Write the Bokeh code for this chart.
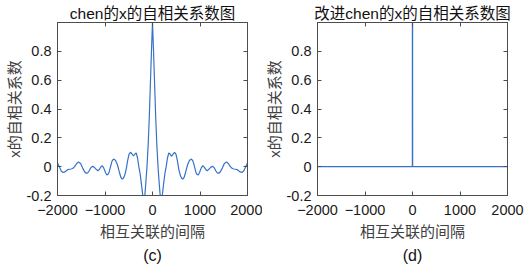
from bokeh.plotting import figure
from bokeh.layouts import row
from bokeh.models import (Range1d, FixedTicker, LinearAxis, CustomJSTickFormatter, Title)
from bokeh.embed import file_html
from bokeh.resources import INLINE

# ---- data ----
lags_c = [-2000, -1980, -1950, -1920, -1888, -1855, -1820, -1782, -1750, -1712, -1680, -1640,
          -1600, -1558, -1510, -1470, -1430, -1396, -1365, -1335, -1300, -1270, -1245, -1215,
          -1180, -1151, -1120, -1090, -1059, -1025, -990, -962, -935, -910, -880, -850, -821,
          -780, -740, -700, -665, -640, -620, -590, -555, -525, -495, -465, -430, -400, -370,
          -343, -315, -288, -260, -230, -205, -195, -185, -175, -162, -140, -116, -90, -66,
          -40, -20, 0,
          20, 40, 66, 90, 116, 140, 162, 175, 185, 195, 205, 230, 260, 288, 315, 343, 370, 400,
          430, 465, 495, 525, 555, 590, 620, 640, 665, 700, 740, 780, 821, 850, 880, 910, 935,
          962, 990, 1025, 1059, 1090, 1120, 1151, 1180, 1215, 1245, 1270, 1300, 1335, 1365,
          1396, 1430, 1470, 1510, 1558, 1600, 1640, 1680, 1712, 1750, 1782, 1820, 1855, 1888,
          1920, 1950, 1980, 2000]
corr_c = [0.026, 0.012, -0.010, -0.030, -0.040, -0.038, -0.030, -0.020, -0.018, -0.016, -0.013, 0.000,
          0.020, 0.033, 0.020, -0.010, -0.035, -0.046, -0.043, -0.030, -0.008, 0.002, 0.000, -0.008,
          -0.020, -0.028, -0.020, -0.003, 0.007, -0.010, -0.040, -0.058, -0.053, -0.035, 0.005, 0.040, 0.053,
          0.045, 0.015, -0.035, -0.075, -0.086, -0.083, -0.065, -0.020, 0.040, 0.085, 0.100, 0.088, 0.074, 0.088,
          0.095, 0.060, 0.000, -0.050, -0.130, -0.200, -0.230, -0.250, -0.240, -0.200, -0.110, 0.000, 0.160, 0.355,
          0.620, 0.820, 1.000,
          0.820, 0.620, 0.355, 0.160, 0.000, -0.110, -0.200, -0.240, -0.250, -0.230, -0.200, -0.130, -0.050, 0.000, 0.060, 0.095, 0.088, 0.072,
          0.085, 0.100, 0.085, 0.040, -0.020, -0.065, -0.083, -0.086, -0.075, -0.035, 0.015, 0.045, 0.053, 0.040, 0.005, -0.035, -0.053,
          -0.058, -0.040, -0.010, 0.007, -0.003, -0.020, -0.028, -0.020, -0.008, 0.000, 0.002, -0.008, -0.030, -0.043,
          -0.046, -0.035, -0.010, 0.020, 0.033, 0.020, 0.000, -0.013, -0.016, -0.018, -0.020, -0.030, -0.038, -0.040,
          -0.030, -0.010, 0.012, 0.026]

lags_d = [-2000, -1, 0, 1, 2000]
corr_d = [0.0, 0.0, 1.0, 0.0, 0.0]

titles = ["chen的x的自相关系数图", "改进chen的x的自相关系数图"]
captions = ["(c)", "(d)"]
x_label = "相互关联的间隔"
y_label = "x的自相关系数"
x_ticks = [-2000, -1000, 0, 1000, 2000]
y_ticks = [-0.2, 0, 0.2, 0.4, 0.6, 0.8]

FONT = "Liberation Sans, Noto Sans CJK SC"
LINE = "#3572c9"
AX = "#4d4d4d"

def make(lags, vals, title, cap, width, bl, br, lw):
    p = figure(width=width, height=266, output_backend="svg", toolbar_location=None,
               x_range=Range1d(-2000, 2000), y_range=Range1d(-0.2, 1.0),
               min_border_left=bl, min_border_right=br, min_border_top=22, min_border_bottom=71)
    p.title.text = title
    p.title.align = "center"
    p.title.text_font = FONT
    p.title.text_font_size = "15.5px"
    p.title.text_font_style = "normal"
    p.title.text_color = "#111111"
    p.title.standoff = 1
    p.grid.visible = False
    p.outline_line_color = AX
    p.outline_line_width = 1
    p.background_fill_color = "white"
    p.border_fill_color = "white"
    p.line(lags, vals, line_color=LINE, line_width=lw)

    fmt = CustomJSTickFormatter(code="return Number(tick.toFixed(1)).toString();")
    for ax in p.xaxis:
        ax.ticker = FixedTicker(ticks=x_ticks)
        ax.axis_label = x_label
        ax.axis_label_standoff = 5
        ax.major_label_standoff = 9
    for ax in p.yaxis:
        ax.ticker = FixedTicker(ticks=y_ticks)
        ax.formatter = fmt
        ax.axis_label = y_label
        ax.axis_label_standoff = 1
        ax.major_label_standoff = 6
    for ax in list(p.xaxis) + list(p.yaxis):
        ax.major_tick_in = 4
        ax.major_tick_out = 0
        ax.minor_tick_in = 0
        ax.minor_tick_out = 0
        ax.axis_line_color = AX
        ax.major_tick_line_color = AX
        ax.major_label_text_font = FONT
        ax.major_label_text_font_size = "14.5px"
        ax.major_label_text_color = "#1a1a1a"
        ax.axis_label_text_font = FONT
        ax.axis_label_text_font_size = "15px"
        ax.axis_label_text_font_style = "normal"
        ax.axis_label_text_color = "#404040"

    top = LinearAxis(ticker=FixedTicker(ticks=x_ticks),
                     major_label_overrides={t: "" for t in x_ticks},
                     major_tick_in=4, major_tick_out=0, minor_tick_in=0, minor_tick_out=0,
                     major_label_standoff=0, axis_line_color=AX, major_tick_line_color=AX)
    right = LinearAxis(ticker=FixedTicker(ticks=y_ticks),
                       major_label_overrides={t: "" for t in y_ticks},
                       major_tick_in=4, major_tick_out=0, minor_tick_in=0, minor_tick_out=0,
                       major_label_standoff=0, axis_line_color=AX, major_tick_line_color=AX)
    p.add_layout(top, "above")
    p.add_layout(right, "right")

    p.add_layout(Title(text=cap, align="center", text_font=FONT, text_font_size="16px",
                       text_font_style="normal", text_color="#111111", standoff=4), "below")
    return p

p1 = make(lags_c, corr_c, titles[0], captions[0], 262, 57, 15, 1.2)
p2 = make(lags_d, corr_d, titles[1], captions[1], 263, 55, 18, 1.4)
p = row(p1, p2)

open("out.html", "w").write(file_html(p, INLINE))
